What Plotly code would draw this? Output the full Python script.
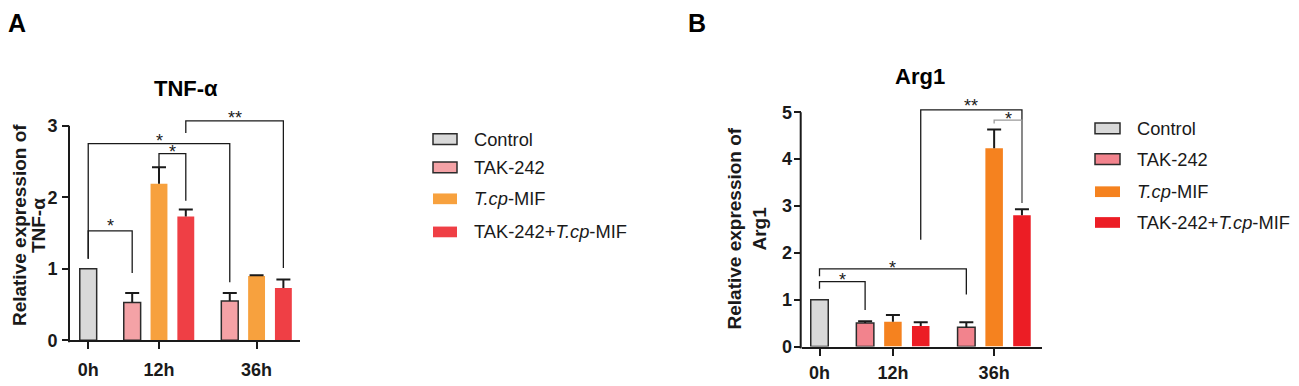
import plotly.graph_objects as go

# The page body keeps its default 8px margin, so the figure is drawn 8px smaller
# and every reference-pixel position below is shifted by that offset.
PAGE_W, PAGE_H, OFF = 1299, 386, 8
W, H = PAGE_W - OFF, PAGE_H - OFF

# ---------------- data ----------------
categories = ["0h", "12h", "36h"]
series_names = ["Control", "TAK-242", "<i>T.cp</i>-MIF", "TAK-242+<i>T.cp</i>-MIF"]

tnf_control = [1.00, None, None]
tnf_control_err = [0.0, 0.0, 0.0]
tnf_tak = [None, 0.53, 0.55]
tnf_tak_err = [0.0, 0.13, 0.11]
tnf_tcp = [None, 2.19, 0.90]
tnf_tcp_err = [0.0, 0.23, 0.01]
tnf_combo = [None, 1.73, 0.73]
tnf_combo_err = [0.0, 0.10, 0.12]

arg_control = [1.00, None, None]
arg_control_err = [0.0, 0.0, 0.0]
arg_tak = [None, 0.50, 0.41]
arg_tak_err = [0.0, 0.04, 0.11]
arg_tcp = [None, 0.53, 4.23]
arg_tcp_err = [0.0, 0.14, 0.40]
arg_combo = [None, 0.44, 2.80]
arg_combo_err = [0.0, 0.08, 0.13]

tnf_ticks = [0, 1, 2, 3]
arg_ticks = [0, 1, 2, 3, 4, 5]

# ---------------- style / layout ----------------
group_pos = [0.0, 2.64, 6.28]
series_offset = [0, -1, 0, 1]
bar_w = 0.63
INK = "#1a1a1a"
FONT = "Liberation Sans, Arial, sans-serif"

colors_A = ["#d9d9d9", "#f4a2a6", "#f7a13e", "#ef3f45"]
colors_B = ["#d9d9d9", "#f2838d", "#f5821f", "#ec1d25"]
outlined = [True, True, False, False]


def px_x(p):
    return (p - OFF) / W


def px_y(p):
    return 1 - (p - OFF) / H


panels = [
    dict(xa="x", ya="y", xd=[70, 300], yb=349.3, yt=103.3, xr=[-0.68, 7.9], yr=[0, 3.35],
         ymax=3, ticks=tnf_ticks, colors=colors_A, ystand=1, xstand=5,
         vals=[tnf_control, tnf_tak, tnf_tcp, tnf_combo],
         errs=[tnf_control_err, tnf_tak_err, tnf_tcp_err, tnf_combo_err],
         title="TNF-α", title_xy=(185.5, 91),
         ytitle=["Relative expression of", "TNF-α"], ytitle_x=[19.5, 38.5], ytitle_y=231.5,
         letter="A", letter_x=16.5,
         legend_x=(433, 457, 472), legend_y=[142.7, 171.7, 204, 238]),
    dict(xa="x2", ya="y2", xd=[801.7, 1041.7], yb=355.7, yt=100.6, xr=[-0.64, 7.99], yr=[0, 5.3],
         ymax=5, ticks=arg_ticks, colors=colors_B, ystand=-2, xstand=2,
         vals=[arg_control, arg_tak, arg_tcp, arg_combo],
         errs=[arg_control_err, arg_tak_err, arg_tcp_err, arg_combo_err],
         title="Arg1", title_xy=(919.5, 78),
         ytitle=["Relative expression of", "Arg1"], ytitle_x=[735, 760], ytitle_y=234.5,
         letter="B", letter_x=697,
         legend_x=(1095, 1120, 1135), legend_y=[131.7, 163.3, 196.7, 228.3]),
]

# brackets: (series_a, group_a, drop_a, series_b, group_b, drop_b, height, label, label_y, color)
brackets_A = [
    (0, 0, 1.14, 1, 1, 0.94, 1.53, "*", 1.65, INK),
    (0, 0, 1.14, 1, 2, 0.81, 2.75, "*", 2.85, INK),
    (2, 1, 2.42, 3, 1, 1.95, 2.61, "*", 2.69, INK),
    (3, 1, 2.90, 3, 2, 1.01, 3.07, "**", 3.17, INK),
]
brackets_B = [
    (0, 0, 1.23, 1, 1, 0.78, 1.385, "*", 1.50, INK),
    (0, 0, 1.50, 1, 2, 1.11, 1.655, "*", 1.76, INK),
    (3, 1, 2.28, 3, 2, 3.06, 5.05, "**", 5.21, INK),
    (2, 2, 4.76, 3, 2, 3.06, 4.83, "*", 4.93, "#9a9a9a"),
]

fig = go.Figure()
shapes = []
annotations = []
layout_axes = {}

for pi, P in enumerate(panels):
    stem_x, stem_y, cap_x, cap_y = [], [], [], []
    for si in range(4):
        xs = [group_pos[g] + series_offset[si] for g in range(3)]
        fig.add_trace(go.Bar(
            x=xs, y=P["vals"][si], width=bar_w,
            marker=dict(color=P["colors"][si],
                        line=dict(color="#2b2b2b" if outlined[si] else P["colors"][si],
                                  width=1.5 if outlined[si] else 0)),
            xaxis=P["xa"], yaxis=P["ya"], showlegend=False, name=series_names[si],
        ))
        for g in range(3):
            v = P["vals"][si][g]
            e = P["errs"][si][g]
            if v is None or e <= 0:
                continue
            stem_x += [xs[g], xs[g], None]
            stem_y += [v, v + e, None]
            cap_x.append(xs[g])
            cap_y.append(v + e)
    fig.add_trace(go.Scatter(x=stem_x, y=stem_y, mode="lines",
                             line=dict(color=INK, width=2), xaxis=P["xa"], yaxis=P["ya"],
                             showlegend=False, hoverinfo="skip"))
    fig.add_trace(go.Scatter(x=cap_x, y=cap_y, mode="markers",
                             marker=dict(symbol="line-ew", size=10,
                                         line=dict(color=INK, width=2)),
                             xaxis=P["xa"], yaxis=P["ya"], showlegend=False, hoverinfo="skip"))

    ydom = [px_y(P["yb"]), px_y(P["yt"])]
    xkey = "xaxis" if P["xa"] == "x" else "xaxis2"
    ykey = "yaxis" if P["ya"] == "y" else "yaxis2"
    layout_axes[xkey] = dict(
        domain=[px_x(P["xd"][0]), px_x(P["xd"][1])], range=P["xr"], anchor=P["ya"],
        tickmode="array", tickvals=group_pos, ticktext=categories,
        ticks="outside", ticklen=7, tickwidth=2, tickcolor=INK, ticklabelstandoff=P["xstand"],
        showline=True, linewidth=2, linecolor=INK, showgrid=False, zeroline=False,
        tickfont=dict(family=FONT, size=18, color=INK, weight="bold"), fixedrange=True,
    )
    layout_axes[ykey] = dict(
        domain=ydom, range=P["yr"], anchor=P["xa"],
        tickmode="array", tickvals=P["ticks"],
        ticks="outside", ticklen=7, tickwidth=2, tickcolor=INK, ticklabelstandoff=P["ystand"],
        showline=False, showgrid=False, zeroline=False,
        tickfont=dict(family=FONT, size=18, color=INK, weight="bold"), fixedrange=True,
    )
    # y axis line up to top tick only
    ytop = ydom[0] + P["ymax"] / P["yr"][1] * (ydom[1] - ydom[0])
    shapes.append(dict(type="line", xref="paper", yref="paper",
                       x0=px_x(P["xd"][0]) - 1 / W, x1=px_x(P["xd"][0]) - 1 / W,
                       y0=ydom[0] - 2 / H, y1=ytop,
                       line=dict(color=INK, width=2)))
    # brackets
    for (sa, ga, da, sb, gb, db, h, lab, ly, col) in (brackets_A if pi == 0 else brackets_B):
        xa_ = group_pos[ga] + series_offset[sa]
        xb_ = group_pos[gb] + series_offset[sb]
        shapes.append(dict(type="path", xref=P["xa"], yref=P["ya"],
                           path=f"M {xa_},{da} L {xa_},{h} L {xb_},{h} L {xb_},{db}",
                           line=dict(color=col, width=1.3)))
        annotations.append(dict(x=(xa_ + xb_) / 2, y=ly, xref=P["xa"], yref=P["ya"],
                                text=lab, showarrow=False, yanchor="middle", yshift=-4,
                                font=dict(family=FONT, size=18, color=INK)))
    # titles
    annotations.append(dict(x=px_x(P["title_xy"][0]), y=px_y(P["title_xy"][1]),
                            xref="paper", yref="paper", text=P["title"], showarrow=False,
                            xanchor="center", yanchor="middle",
                            font=dict(family=FONT, size=22, color="#000", weight="bold")))
    for li in range(2):
        annotations.append(dict(x=px_x(P["ytitle_x"][li]), y=px_y(P["ytitle_y"]),
                                xref="paper", yref="paper", text=P["ytitle"][li],
                                showarrow=False, textangle=-90, borderpad=0,
                                xanchor="center", yanchor="middle",
                                font=dict(family=FONT, size=19, color=INK, weight="bold")))
    annotations.append(dict(x=px_x(P["letter_x"]), y=1.0,
                            xref="paper", yref="paper", text=P["letter"], showarrow=False,
                            xanchor="center", yanchor="top", borderpad=0,
                            font=dict(family=FONT, size=25, color="#000", weight="bold")))
    # legend
    lx0, lx1, ltx = P["legend_x"]
    for si in range(4):
        yc = P["legend_y"][si]
        shapes.append(dict(type="rect", xref="paper", yref="paper",
                           x0=px_x(lx0), x1=px_x(lx1), y0=px_y(yc + 5.5), y1=px_y(yc - 5.5),
                           fillcolor=P["colors"][si],
                           line=dict(color="#2b2b2b" if outlined[si] else P["colors"][si],
                                     width=1.5 if outlined[si] else 0)))
        annotations.append(dict(x=px_x(ltx), y=px_y(yc), xref="paper", yref="paper",
                                text=series_names[si], showarrow=False,
                                xanchor="left", yanchor="middle",
                                font=dict(family=FONT, size=18.3, color=INK)))

fig.update_layout(
    width=W, height=H, margin=dict(l=0, r=0, t=0, b=0),
    paper_bgcolor="white", plot_bgcolor="white",
    barmode="overlay", showlegend=False,
    shapes=shapes, annotations=annotations,
    **layout_axes,
)

fig.write_html("out.html")
